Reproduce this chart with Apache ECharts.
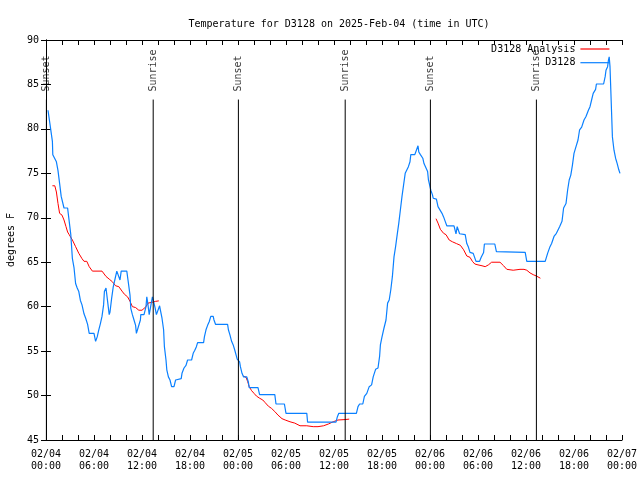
<!DOCTYPE html>
<html>
<head>
<meta charset="utf-8">
<script src="https://cdn.jsdelivr.net/npm/echarts@6/dist/echarts.min.js"></script>
<style>html,body{margin:0;padding:0;background:#fff}#c{width:640px;height:480px}</style>
</head>
<body>
<div id="c"></div>
<script>
// hours since 2025-02-04 00:00 UTC
const obsHours = [0.25,0.5,0.8,0.85,1.1,1.3,1.5,1.75,1.9,2.25,2.7,2.9,3.1,3.3,3.5,3.7,3.9,4.1,4.3,4.5,4.75,4.96,5.2,5.4,6.0,6.2,6.4,6.6,6.8,7.0,7.2,7.3,7.5,7.7,7.9,8.0,8.2,8.4,8.6,8.8,8.85,9.1,9.25,9.4,10.1,10.25,10.5,10.6,10.8,11.0,11.2,11.3,11.5,11.8,11.85,12.25,12.5,12.6,12.75,12.9,13.1,13.3,13.5,13.65,13.8,14.0,14.2,14.3,14.5,14.7,14.8,15.0,15.1,15.3,15.5,15.7,16.0,16.2,16.3,16.9,17.0,17.25,17.5,17.7,18.2,18.4,18.6,18.8,18.95,19.7,19.8,20.0,20.2,20.4,20.6,20.8,20.9,21.0,21.2,22.7,22.8,23.0,23.2,23.4,23.6,23.75,23.9,24.2,24.3,24.5,24.7,25.1,25.3,25.4,26.5,26.7,28.6,28.75,29.8,30.0,32.6,32.7,36.25,36.4,36.6,38.8,39.0,39.2,39.6,39.8,40.1,40.4,40.7,40.9,41.2,41.5,41.7,41.8,42.0,42.25,42.5,42.7,42.9,43.1,43.3,43.5,43.7,43.9,44.1,44.3,44.5,44.7,44.9,45.1,45.3,45.5,45.6,46.1,46.3,46.5,46.6,46.8,47.1,47.25,47.5,47.7,47.8,48.1,48.3,48.4,48.8,49.0,49.25,49.5,49.7,49.9,50.1,51.0,51.25,51.4,51.7,51.8,52.4,52.6,52.8,53.0,53.4,53.75,54.2,54.4,54.7,54.8,56.1,56.3,56.5,59.9,60.1,62.4,62.7,63.0,63.2,63.5,63.8,64.2,64.5,64.7,65.0,65.2,65.4,65.6,65.8,66.0,66.25,66.5,66.7,66.96,67.25,67.5,67.8,68.0,68.2,68.4,68.7,68.8,69.7,69.9,70.0,70.2,70.3,70.4,70.5,70.6,70.7,70.8,71.0,71.2,71.4,71.6,71.75];
const obsTemps = [82.1,80.5,78.6,77.1,77.1,76.3,75.3,73.5,72.4,71.1,71.1,69.6,68.1,65.4,64.4,62.6,62.1,61.7,60.7,60.2,59.2,58.7,58.0,57.0,57.0,56.1,56.6,57.4,58.1,58.9,60.2,61.7,62.1,60.6,59.1,59.4,60.9,62.2,63.0,63.2,64.0,64.0,63.0,64.0,64.0,63.0,61.3,59.8,59.1,58.5,57.9,57.0,57.6,58.5,59.1,59.1,60.0,61.1,60.2,59.1,59.1,61.1,60.4,59.8,59.1,59.1,60.1,59.6,58.7,57.4,55.5,54.0,52.9,52.1,51.75,51.0,51.0,51.75,51.9,51.9,52.5,53.1,53.4,54.0,54.0,54.75,55.1,55.5,55.95,55.95,56.6,57.4,57.9,58.3,58.9,59.1,58.9,58.5,58.0,58.0,57.4,56.8,56.1,55.7,55.1,54.6,54.1,53.8,53.25,52.5,52.1,52.1,51.5,50.9,50.9,50.1,50.1,49.05,49.05,48.0,48.0,47.0,47.0,47.55,48.0,48.0,48.75,49.05,49.05,49.9,50.25,51.0,51.2,52.1,52.95,53.1,54.4,55.7,56.6,57.6,58.5,60.4,60.75,61.9,63.4,65.6,66.75,68.1,69.4,70.9,72.4,73.7,75.0,75.2,75.75,76.3,77.1,77.1,77.6,78.1,77.4,77.1,76.7,76.1,75.9,75.2,74.3,73.1,72.6,72.2,72.1,71.25,71.1,70.5,70.1,69.6,69.1,69.1,68.2,69.0,68.2,68.1,68.1,67.1,66.7,66.1,66.0,65.1,65.1,65.55,66.1,67.05,67.05,66.2,66.1,66.1,65.1,65.1,66.0,66.75,67.1,67.9,68.25,69.0,69.6,71.1,71.6,73.1,74.25,74.8,75.9,77.25,78.0,78.75,79.9,80.2,81.0,81.4,82.1,82.5,83.25,84.0,84.45,85.05,85.05,85.9,86.6,87.0,87.7,88.1,87.0,84.4,81.75,79.1,77.6,76.7,76.1,75.4,75.0];

// analysis series (null = gap between segments)
const anaHours = [0.8,1.1,1.3,1.5,1.7,2.0,2.25,2.5,2.7,2.9,3.3,3.7,4.1,4.5,4.75,5.1,5.4,5.8,7.0,7.5,7.9,8.3,8.7,9.1,9.5,9.8,10.2,10.5,10.8,11.2,11.6,12.0,12.5,12.75,13.3,13.7,14.1,
  20,
  24.66,25.0,25.2,25.4,25.7,26.0,26.3,26.7,27.1,27.4,27.8,28.2,28.6,29.0,29.5,29.9,30.5,31.1,31.75,32.6,33.4,34.0,34.7,35.3,35.9,36.5,37.4,37.9,
  44,
  48.75,49.0,49.3,49.7,50.0,50.4,50.8,51.3,51.8,52.2,52.6,53.0,53.3,53.6,54.0,54.5,54.9,55.3,55.7,56.75,57.2,57.6,58.4,59.25,59.75,60.1,60.5,60.9,61.3,61.8];
const anaTemps = [73.6,73.6,72.9,71.6,70.5,70.3,69.75,69.0,68.4,68.1,67.5,66.75,66.0,65.4,65.1,65.1,64.5,64.0,64.0,63.4,63.1,62.8,62.35,62.25,61.75,61.4,61.1,60.6,60.0,59.9,59.6,59.6,60.0,60.4,60.5,60.6,60.65,
  null,
  52.2,52.05,51.6,51.0,50.55,50.25,49.95,49.7,49.5,49.2,48.8,48.55,48.2,47.8,47.4,47.25,47.05,46.9,46.6,46.6,46.5,46.5,46.6,46.8,47.05,47.25,47.3,47.35,
  null,
  69.9,69.4,68.7,68.25,68.1,67.5,67.3,67.1,66.9,66.4,65.7,65.55,65.1,64.8,64.7,64.6,64.5,64.7,65.0,65.0,64.6,64.2,64.1,64.2,64.2,64.1,63.8,63.6,63.45,63.2];

const eventHours = [0.05, 13.4, 24.05, 37.4, 48.05, 61.3];
const eventNames = ['Sunset','Sunrise','Sunset','Sunrise','Sunset','Sunrise'];

const titleText = 'Temperature for D3128 on 2025-Feb-04 (time in UTC)';
const yLabel = 'degrees F';
const obsName = 'D3128';
const anaName = 'D3128 Analysis';

const FONT = 'DejaVu Sans Mono';
const FS = 10;
const Y_MIN = 45, Y_MAX = 90;
const LINE_TOP = 83.3, LABEL_BASE = 84.2;

function pad(n){ return (n < 10 ? '0' : '') + n; }
function xFmt(v){
  if (Math.round(v) % 6 !== 0) return '';
  const day = 4 + Math.floor(v / 24);
  const hr = Math.round(v) % 24;
  return '02/' + pad(day) + '\n' + pad(hr) + ':00';
}

const obsData = obsHours.map((h, i) => [h, obsTemps[i]]);
const anaData = anaHours.map((h, i) => anaTemps[i] === null ? [h, null] : [h, anaTemps[i]]);

const series = [
  { name: anaName, type: 'line', data: anaData, symbol: 'none', connectNulls: false,
    lineStyle: { color: '#ff0000', width: 1 }, itemStyle: { color: '#ff0000' }, z: 3 },
  { name: obsName, type: 'line', data: obsData, symbol: 'none',
    lineStyle: { color: '#0a80ff', width: 1.2 }, itemStyle: { color: '#0a80ff' }, z: 4 }
];
eventHours.forEach((h, i) => {
  series.push({ name: 'ev' + i, type: 'line', data: [[h, Y_MIN], [h, LINE_TOP]], symbol: 'none',
    lineStyle: { color: '#000', width: 1 }, z: 5, silent: true });
});
series.push({
  name: 'evlabels', type: 'scatter', symbolSize: 0, silent: true, z: 6,
  data: eventHours.map((h, i) => ({ name: eventNames[i], value: [h, LABEL_BASE] })),
  label: { show: true, formatter: '{b}', rotate: 90, position: 'inside', align: 'left', verticalAlign: 'middle',
    fontFamily: FONT, fontSize: FS, color: '#000' }
});

const axisCommonX = {
  type: 'value', min: 0, max: 72, interval: 2,
  axisLine: { show: true, lineStyle: { color: '#000', width: 1 } },
  axisTick: { show: true, inside: true, length: 5, lineStyle: { color: '#000' } },
  splitLine: { show: false }
};
const axisCommonY = {
  type: 'value', min: Y_MIN, max: Y_MAX, interval: 5,
  axisLine: { show: true, lineStyle: { color: '#000', width: 1 } },
  axisTick: { show: true, inside: true, length: 5, lineStyle: { color: '#000' } },
  splitLine: { show: false }
};

const legendCommon = { orient: 'vertical', right: 30, padding: 0, itemWidth: 29, itemHeight: 10, align: 'right',
  itemStyle: { opacity: 0 }, lineStyle: { width: 1.2 },
  textStyle: { fontFamily: FONT, fontSize: FS, color: '#000' } };

const chart = echarts.init(document.getElementById('c'), null, { renderer: 'canvas' });
chart.setOption({
  animation: false,
  backgroundColor: '#fff',
  title: { text: titleText, left: 334, top: 14, textAlign: 'center',
    textStyle: { fontFamily: FONT, fontSize: FS, fontWeight: 'normal', color: '#000' } },
  legend: [
    Object.assign({}, legendCommon, { data: [anaName], top: 44 }),
    Object.assign({}, legendCommon, { data: [obsName], top: 57.7 })
  ],
  grid: { left: 46, right: 18, top: 40, bottom: 40, outerBoundsMode: 'none' },
  xAxis: [
    Object.assign({}, axisCommonX, { position: 'bottom',
      axisLabel: { formatter: xFmt, margin: 8, lineHeight: 12, fontFamily: FONT, fontSize: FS, color: '#000', showMinLabel: true, showMaxLabel: true } }),
    Object.assign({}, axisCommonX, { position: 'top', axisLabel: { show: false } })
  ],
  yAxis: [
    Object.assign({}, axisCommonY, { position: 'left', name: yLabel, nameLocation: 'middle', nameGap: 29, nameRotate: 90,
      nameTextStyle: { fontFamily: FONT, fontSize: FS, color: '#000' },
      axisLabel: { margin: 7, fontFamily: FONT, fontSize: FS, color: '#000' } }),
    Object.assign({}, axisCommonY, { position: 'right', axisLabel: { show: false } })
  ],
  series: series
});
</script>
</body>
</html>
